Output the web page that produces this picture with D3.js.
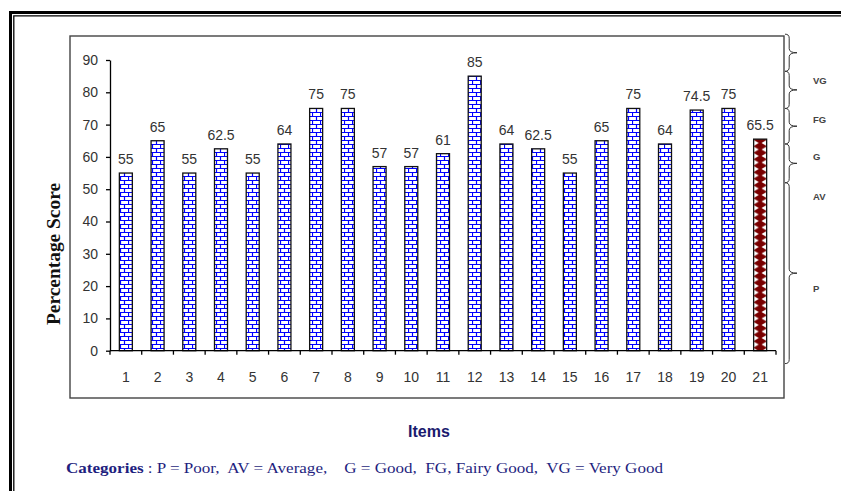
<!DOCTYPE html>
<html>
<head>
<meta charset="utf-8">
<script src="https://cdn.jsdelivr.net/npm/d3@7"></script>
<style>
  body { margin: 0; background: #fff; }
  svg { display: block; }
</style>
</head>
<body>
<div id="chart"></div>
<script>
// data
const items = ["1","2","3","4","5","6","7","8","9","10","11","12","13","14","15","16","17","18","19","20","21"];
const scores = [55, 65, 55, 62.5, 55, 64, 75, 75, 57, 57, 61, 85, 64, 62.5, 55, 65, 75, 64, 74.5, 75, 65.5];
const yTicks = [0, 10, 20, 30, 40, 50, 60, 70, 80, 90];
// category brackets on the right, edges in score units
const braceEdges = [98, 86.5, 75, 64, 52, -4];
const categoryLabels = ["VG", "FG", "G", "AV", "P"];
const categoryLabelAt = [83.5, 71.5, 60, 47.5, 19];

const W = 841, H = 491;
const PLOT = { LEFT: 110, RIGHT: 776, TOP: 60, BOTTOM: 350.7 };

const svg = d3.select("#chart").append("svg")
  .attr("width", W)
  .attr("height", H);

// Scales
const x = d3.scaleBand().domain(items).range([PLOT.LEFT, PLOT.RIGHT]).padding(0);
const y = d3.scaleLinear().domain([0, 90]).range([PLOT.BOTTOM, PLOT.TOP]);
const barW = x.bandwidth() * 0.41;

// Patterns
const defs = svg.append("defs");
const brick = defs.append("pattern")
  .attr("id", "brick")
  .attr("patternUnits", "userSpaceOnUse")
  .attr("width", 8).attr("height", 8);
brick.append("rect").attr("width", 8).attr("height", 8).attr("fill", "#fff");
brick.append("path")
  .attr("d", "M0,0.5H8M0,4.5H8M0.5,0V4M4.5,4V8")
  .attr("stroke", "#0000ff")
  .attr("stroke-width", 1.2);

// last bar: one diamond per row across the bar width
const lastX = x(items[items.length - 1]) + (x.bandwidth() - barW) / 2;
const diamond = defs.append("pattern")
  .attr("id", "diamond")
  .attr("patternUnits", "userSpaceOnUse")
  .attr("x", lastX).attr("y", 0)
  .attr("width", barW).attr("height", 6.5);
diamond.append("rect").attr("width", barW).attr("height", 6.5).attr("fill", "#fff");
diamond.append("path")
  .attr("d", `M${barW / 2},-0.8L${barW + 0.5},3.25L${barW / 2},7.3L-0.5,3.25Z`)
  .attr("fill", "#7a0000");

// Outer double frame
svg.append("path")
  .attr("d", `M10.5,${H + 5}V12.5H${W + 5}`)
  .attr("fill", "none").attr("stroke", "#000").attr("stroke-width", 3);
svg.append("path")
  .attr("d", `M13.8,${H + 5}V15.8H${W + 5}`)
  .attr("fill", "none").attr("stroke", "#000").attr("stroke-width", 1.3);

// Chart box
svg.append("rect")
  .attr("x", 70).attr("y", 36)
  .attr("width", 714).attr("height", 362)
  .attr("fill", "none")
  .attr("stroke", "#444")
  .attr("stroke-width", 1.4);

// Y axis
const yAxis = svg.append("g")
  .attr("transform", `translate(${PLOT.LEFT},0)`)
  .call(d3.axisLeft(y).tickValues(yTicks).tickSize(4).tickSizeOuter(0).tickPadding(8));
yAxis.select(".domain").attr("stroke", "#000").attr("stroke-width", 1.3);
yAxis.selectAll(".tick line").attr("stroke", "#000").attr("stroke-width", 1.3);
yAxis.selectAll("text")
  .attr("font-family", "Liberation Sans, Arial, sans-serif")
  .attr("font-size", 14)
  .attr("fill", "#333");

// X axis (labels at band centres, ticks at band edges)
const xAxis = svg.append("g")
  .attr("transform", `translate(0,${PLOT.BOTTOM})`)
  .call(d3.axisBottom(x).tickSize(0).tickPadding(21));
xAxis.select(".domain").remove();
xAxis.selectAll("text")
  .attr("font-family", "Liberation Sans, Arial, sans-serif")
  .attr("font-size", 14)
  .attr("fill", "#333");

// Bars
svg.selectAll("rect.bar")
  .data(scores)
  .enter().append("rect")
  .attr("class", "bar")
  .attr("x", (d, i) => x(items[i]) + (x.bandwidth() - barW) / 2)
  .attr("y", d => y(d))
  .attr("width", barW)
  .attr("height", d => y(0) - y(d))
  .attr("fill", (d, i) => i === scores.length - 1 ? "url(#diamond)" : "url(#brick)")
  .attr("stroke", "#111")
  .attr("stroke-width", 1.3);

// axis line + band-edge ticks drawn over the bars
svg.append("line")
  .attr("x1", PLOT.LEFT).attr("x2", PLOT.RIGHT)
  .attr("y1", y(0)).attr("y2", y(0))
  .attr("stroke", "#000").attr("stroke-width", 1.3);
const edges = items.map(d => x(d)).concat([PLOT.RIGHT]);
svg.selectAll("line.xtick")
  .data(edges)
  .enter().append("line")
  .attr("class", "xtick")
  .attr("x1", d => d).attr("x2", d => d)
  .attr("y1", y(0)).attr("y2", y(0) + 4)
  .attr("stroke", "#000").attr("stroke-width", 1.3);

// Value labels
svg.selectAll("text.val")
  .data(scores)
  .enter().append("text")
  .attr("class", "val")
  .attr("x", (d, i) => x(items[i]) + x.bandwidth() / 2)
  .attr("y", d => y(d) - 9)
  .attr("text-anchor", "middle")
  .attr("font-family", "Liberation Sans, Arial, sans-serif")
  .attr("font-size", 14)
  .attr("fill", "#333")
  .text(d => d);

// Curly braces on the right
function bracePath(x0, w, y0, y1) {
  const xm = x0 + w * 0.35;
  const ym = (y0 + y1) / 2;
  const q = Math.min(4, (y1 - y0) / 4);
  return `M${x0},${y0} Q${xm},${y0} ${xm},${y0 + q} L${xm},${ym - q} Q${xm},${ym} ${x0 + w},${ym}` +
    ` Q${xm},${ym} ${xm},${ym + q} L${xm},${y1 - q} Q${xm},${y1} ${x0},${y1}`;
}
d3.pairs(braceEdges).forEach(([a, b]) => {
  svg.append("path")
    .attr("d", bracePath(785, 12, y(a), y(b)))
    .attr("fill", "none")
    .attr("stroke", "#333")
    .attr("stroke-width", 1);
});
svg.selectAll("text.cat")
  .data(categoryLabels)
  .enter().append("text")
  .attr("class", "cat")
  .attr("x", 813)
  .attr("y", (d, i) => y(categoryLabelAt[i]) + 3)
  .attr("font-family", "Liberation Sans, Arial, sans-serif")
  .attr("font-size", 9.5)
  .attr("font-weight", "bold")
  .attr("fill", "#444")
  .text(d => d);

// Axis titles
svg.append("text")
  .attr("transform", `translate(60,254) rotate(-90)`)
  .attr("text-anchor", "middle")
  .attr("font-family", "Liberation Serif, Times New Roman, serif")
  .attr("font-size", 18)
  .attr("font-weight", "bold")
  .attr("fill", "#111")
  .attr("textLength", 142)
  .attr("lengthAdjust", "spacingAndGlyphs")
  .text("Percentage Score");

svg.append("text")
  .attr("x", 429)
  .attr("y", 437)
  .attr("text-anchor", "middle")
  .attr("font-family", "Liberation Sans, Arial, sans-serif")
  .attr("font-size", 16)
  .attr("font-weight", "bold")
  .attr("fill", "#1a1a6e")
  .text("Items");

const note = svg.append("text")
  .attr("x", 66)
  .attr("y", 473)
  .attr("font-family", "Liberation Serif, Times New Roman, serif")
  .attr("font-size", 15)
  .attr("fill", "#1f1f80")
  .attr("textLength", 597)
  .attr("lengthAdjust", "spacingAndGlyphs")
  .attr("xml:space", "preserve");
note.append("tspan").attr("font-weight", "bold").text("Categories");
note.append("tspan").text(" : P = Poor,  AV = Average,    G = Good,  FG, Fairy Good,  VG = Very Good");
</script>
</body>
</html>
